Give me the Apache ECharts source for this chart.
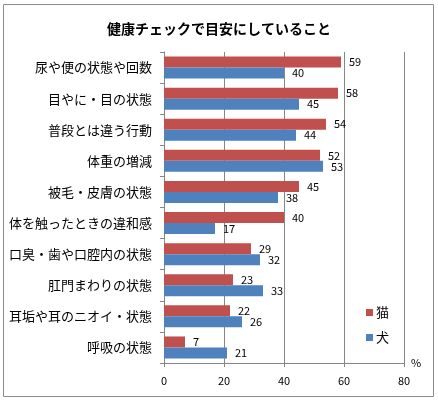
<!DOCTYPE html>
<html>
<head>
<meta charset="utf-8">
<script src="https://cdn.jsdelivr.net/npm/echarts@6/dist/echarts.min.js"></script>
<style>
  html, body { margin: 0; padding: 0; background: #fff; }
  #chart { width: 438px; height: 404px; }
</style>
</head>
<body>
<div id="chart"></div>
<script>
const titleText = '健康チェックで目安にしていること';
const categories = [
    '尿や便の状態や回数',
    '目やに・目の状態',
    '普段とは違う行動',
    '体重の増減',
    '被毛・皮膚の状態',
    '体を触ったときの違和感',
    '口臭・歯や口腔内の状態',
    '肛門まわりの状態',
    '耳垢や耳のニオイ・状態',
    '呼吸の状態'
];
const seriesNames = ['猫', '犬'];
const catValues = [59, 58, 54, 52, 45, 40, 29, 23, 22, 7];
const dogValues = [40, 45, 44, 53, 38, 17, 32, 33, 26, 21];

const FONT = '"Noto Sans CJK JP", "Noto Sans", sans-serif';
const RED = '#C0504D';
const BLUE = '#4F81BD';
const GRID = '#868686';

const chart = echarts.init(document.getElementById('chart'));

function barSeries(name, data, color) {
    return {
        name: name,
        type: 'bar',
        data: data,
        barWidth: 11,
        barGap: '0%',
        itemStyle: { color: color },
        label: {
            show: true,
            position: 'right',
            distance: 8,
            color: '#000',
            fontFamily: FONT,
            fontSize: 11
        }
    };
}

const option = {
    animation: false,
    textStyle: { fontFamily: FONT },
    title: {
        text: titleText,
        left: 'center',
        top: 17,
        textStyle: { fontFamily: FONT, fontSize: 14, fontWeight: 'bold', color: '#000' }
    },
    graphic: [{
        type: 'rect',
        shape: { x: 3.5, y: 4.5, width: 430, height: 392 },
        style: { fill: 'none', stroke: '#8c8c8c', lineWidth: 1 },
        z: -1
    }],
    legend: {
        data: seriesNames,
        orient: 'vertical',
        left: 361,
        top: 301,
        itemWidth: 7,
        itemHeight: 7,
        itemGap: 12,
        icon: 'rect',
        textStyle: { fontFamily: FONT, fontSize: 13, color: '#000', padding: [0, 0, 0, -2] }
    },
    grid: { left: 164, right: 34, top: 52, bottom: 41, containLabel: false },
    xAxis: {
        type: 'value',
        min: 0,
        max: 80,
        interval: 20,
        name: '%',
        nameLocation: 'end',
        nameGap: 7,
        nameTextStyle: { fontFamily: FONT, fontSize: 11, color: '#000', padding: [10, 0, 0, 0] },
        axisLine: { show: true, lineStyle: { color: GRID } },
        axisTick: { show: true, length: 4, lineStyle: { color: GRID } },
        axisLabel: { fontFamily: FONT, fontSize: 11, color: '#000', margin: 12 },
        splitLine: { show: true, lineStyle: { color: GRID } }
    },
    yAxis: {
        type: 'category',
        data: categories,
        inverse: true,
        axisLine: { show: true, lineStyle: { color: GRID } },
        axisTick: { show: true, length: 4, lineStyle: { color: GRID } },
        axisLabel: { fontFamily: FONT, fontSize: 13, color: '#000', margin: 12 },
        splitLine: { show: false }
    },
    series: [
        barSeries(seriesNames[0], catValues, RED),
        barSeries(seriesNames[1], dogValues, BLUE)
    ]
};

chart.setOption(option);
</script>
</body>
</html>
